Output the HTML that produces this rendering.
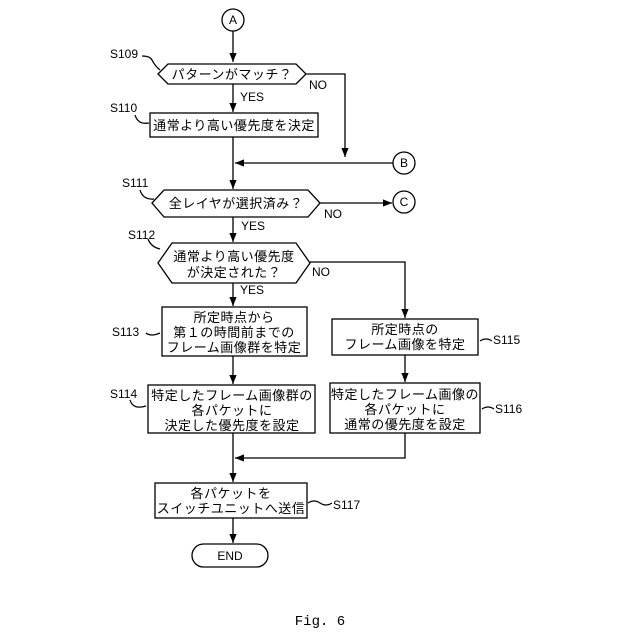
<!DOCTYPE html>
<html><head><meta charset="utf-8"><style>
html,body{margin:0;padding:0;background:#fff;}
svg{display:block;}
text{font-family:"Liberation Sans","Noto Sans CJK JP",sans-serif;fill:#000;}
.j{font-size:13px;letter-spacing:0.5px;}
.l{font-size:12px;}
</style></head><body>
<svg width="640" height="640" viewBox="0 0 640 640" xmlns="http://www.w3.org/2000/svg">
<defs><marker id="a" viewBox="0 0 10 10" refX="10" refY="5" markerWidth="7" markerHeight="7" orient="auto"><path d="M0,1 L10,5 L0,9 z" fill="#000"/></marker></defs>
<g stroke="#000" stroke-width="1.3" fill="none">
<circle cx="233" cy="20" r="11"/>
<line x1="233" y1="31" x2="233" y2="62" marker-end="url(#a)"/>
<polygon points="158,74 168,64 296,64 306,74 296,84 168,84" fill="#fff"/>
<line x1="233" y1="84" x2="233" y2="112" marker-end="url(#a)"/>
<rect x="150" y="113" width="168" height="24"/>
<polyline points="306,74 345,74 345,157" marker-end="url(#a)"/>
<circle cx="404" cy="163" r="11"/>
<line x1="393" y1="163" x2="235" y2="163" marker-end="url(#a)"/>
<line x1="233" y1="137" x2="233" y2="189" marker-end="url(#a)"/>
<polygon points="152,203 164,190 308,190 320,203 308,217 164,217" fill="#fff"/>
<line x1="320" y1="203" x2="392" y2="203" marker-end="url(#a)"/>
<circle cx="404" cy="202" r="11"/>
<line x1="233" y1="217" x2="233" y2="242" marker-end="url(#a)"/>
<polygon points="158,263 172,243 296,243 310,263 296,283 172,283" fill="#fff"/>
<polyline points="310,262 405,262 405,318" marker-end="url(#a)"/>
<line x1="233" y1="283" x2="233" y2="306" marker-end="url(#a)"/>
<rect x="162" y="307" width="145" height="49"/>
<rect x="332" y="319" width="146" height="36"/>
<line x1="233" y1="356" x2="233" y2="384" marker-end="url(#a)"/>
<line x1="405" y1="355" x2="405" y2="382" marker-end="url(#a)"/>
<rect x="148" y="385" width="167" height="48"/>
<rect x="330" y="383" width="150" height="50"/>
<polyline points="405,433 405,458 235,458" marker-end="url(#a)"/>
<line x1="233" y1="433" x2="233" y2="482" marker-end="url(#a)"/>
<rect x="155" y="483" width="152" height="35"/>
<line x1="233" y1="518" x2="233" y2="543" marker-end="url(#a)"/>
<rect x="192" y="544" width="76" height="23" rx="11.5"/>
<path d="M142,56 q8,0 10,4 q3,6 8,10"/>
<path d="M135,115 q3,10 14,8"/>
<path d="M140,190 q3,10 14,9"/>
<path d="M148,239 q3,8 12,10"/>
<path d="M146,333 q5,4 14,0"/>
<path d="M130,400 q3,10 16,6"/>
<path d="M480,341 q6,-4 12,0"/>
<path d="M482,409 q6,-4 12,0"/>
<path d="M308,503 q6,-4 12,0 q6,4 12,0"/>
</g>
<g class="l" text-anchor="middle">
<text x="233" y="24">A</text>
<text x="404" y="167">B</text>
<text x="404" y="206">C</text>
<text x="230" y="560">END</text>
</g>
<g class="l">
<text x="110" y="58">S109</text>
<text x="110" y="112">S110</text>
<text x="122" y="187">S111</text>
<text x="128" y="239">S112</text>
<text x="112" y="336">S113</text>
<text x="110" y="398">S114</text>
<text x="493" y="344">S115</text>
<text x="495" y="413">S116</text>
<text x="333" y="509">S117</text>
<text x="309" y="89">NO</text>
<text x="240" y="101">YES</text>
<text x="324" y="218">NO</text>
<text x="241" y="230">YES</text>
<text x="312" y="276">NO</text>
<text x="240" y="294">YES</text>
</g>
<g class="j" text-anchor="middle">
<text x="232" y="79">パターンがマッチ？</text>
<text x="234" y="130">通常より高い優先度を決定</text>
<text x="236" y="208">全レイヤが選択済み？</text>
<text x="234" y="261">通常より高い優先度</text>
<text x="234" y="277">が決定された？</text>
<text x="234" y="322">所定時点から</text>
<text x="234" y="337">第１の時間前までの</text>
<text x="234" y="352">フレーム画像群を特定</text>
<text x="405" y="334">所定時点の</text>
<text x="405" y="349">フレーム画像を特定</text>
<text x="232" y="400">特定したフレーム画像群の</text>
<text x="232" y="415">各パケットに</text>
<text x="232" y="430">決定した優先度を設定</text>
<text x="405" y="399">特定したフレーム画像の</text>
<text x="405" y="414">各パケットに</text>
<text x="405" y="429">通常の優先度を設定</text>
<text x="231" y="498">各パケットを</text>
<text x="231" y="513">スイッチユニットへ送信</text>
</g>
<text x="320" y="625" text-anchor="middle" style="font-family:'Liberation Mono',monospace;font-size:14px">Fig. 6</text>
</svg>
</body></html>
